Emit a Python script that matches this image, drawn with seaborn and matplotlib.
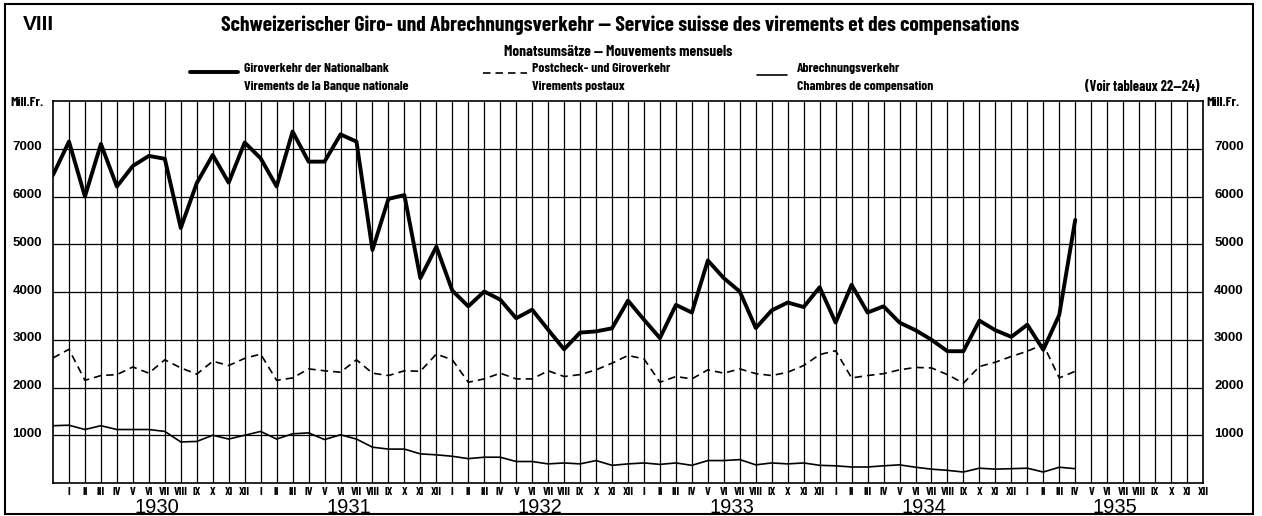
import numpy as np
import pandas as pd
import matplotlib.pyplot as plt
import matplotlib.transforms as mtransforms
from matplotlib.patches import Rectangle
from matplotlib.lines import Line2D
import seaborn as sns

# -------------------------------
# DATA (Mill. Fr., monthly, Dec 1929 .. Apr 1935)
# -------------------------------
giro = [6450, 7150, 6000, 7100, 6210, 6640, 6850, 6790, 5340, 6280, 6870, 6290,
        7130, 6800, 6210, 7360, 6730, 6730, 7300, 7150, 4880, 5950, 6030, 4290,
        4950, 4030, 3700, 4010, 3840, 3450, 3630, 3210, 2800, 3150, 3175, 3240,
        3820, 3420, 3035, 3730, 3570, 4660, 4290, 4010, 3245, 3615, 3780, 3685,
        4100, 3360, 4150, 3570, 3700, 3360, 3200, 3000, 2760, 2760, 3400, 3200,
        3060, 3315, 2790, 3520, 5510]
postcheck = [2620, 2800, 2150, 2250, 2270, 2430, 2300, 2580, 2410, 2280, 2550, 2460,
             2610, 2700, 2150, 2200, 2390, 2350, 2320, 2580, 2300, 2250, 2350, 2340,
             2700, 2580, 2110, 2180, 2300, 2180, 2180, 2350, 2230, 2270, 2370, 2510,
             2670, 2600, 2110, 2230, 2180, 2370, 2300, 2390, 2290, 2250, 2320, 2460,
             2690, 2770, 2200, 2250, 2290, 2370, 2420, 2410, 2270, 2090, 2440, 2530,
             2650, 2760, 2900, 2200, 2340]
clearing = [1200, 1210, 1120, 1200, 1120, 1120, 1120, 1080, 860, 870, 1000, 920,
            1000, 1080, 920, 1030, 1050, 910, 1010, 920, 750, 710, 710, 610,
            590, 560, 510, 540, 540, 450, 450, 400, 420, 400, 470, 370,
            400, 420, 390, 420, 370, 470, 470, 490, 380, 420, 400, 420,
            370, 360, 335, 335, 360, 380, 330, 290, 265, 230, 310, 290,
            300, 310, 230, 330, 300]

months = ["I", "II", "III", "IV", "V", "VI", "VII", "VIII", "IX", "X", "XI", "XII"]
years = ["1930", "1931", "1932", "1933", "1934", "1935"]
y_ticks = [1000, 2000, 3000, 4000, 5000, 6000, 7000]

df = pd.DataFrame({
    "t": np.arange(len(giro)),
    "giro": giro,
    "post": postcheck,
    "clear": clearing,
})

# -------------------------------
# STYLE
# -------------------------------
sns.set_style("white")
plt.rcParams["font.family"] = ["Barlow Condensed", "DejaVu Sans"]
plt.rcParams["font.weight"] = "bold"
plt.rcParams["text.color"] = "black"
wide = ["Liberation Sans", "DejaVu Sans"]

W, H = 1262, 516
fig = plt.figure(figsize=(W / 100, H / 100), dpi=100)
ax = fig.add_axes([53 / W, 1 - 483 / H, 1150 / W, 382 / H])

# -------------------------------
# LINES
# -------------------------------
sns.lineplot(data=df, x="t", y="giro", ax=ax, color="black", lw=2.8)
sns.lineplot(data=df, x="t", y="post", ax=ax, color="black", lw=1.2,
             linestyle=(0, (4.5, 3)))
sns.lineplot(data=df, x="t", y="clear", ax=ax, color="black", lw=1.2)

ax.set_xlim(0, 12 * len(years))
ax.set_ylim(0, 8000)
ax.set_xlabel("")
ax.set_ylabel("")

# grid
ax.set_xticks(np.arange(1, 12 * len(years) + 1))
ax.set_xticklabels(months * len(years), fontsize=8.5, color="black")
ax.set_yticks(y_ticks)
ax.set_yticklabels([str(v) for v in y_ticks], fontsize=9.5, color="black",
                   family=wide, fontweight="bold")
ax.grid(True, color="black", lw=0.9)
ax.tick_params(axis="x", length=0, pad=3)
ax.tick_params(axis="y", length=0, pad=8, labelleft=True, labelright=True)
up = mtransforms.ScaledTranslation(0, 3 / 100, fig.dpi_scale_trans)
for lab in ax.get_yticklabels():
    lab.set_transform(lab.get_transform() + up)
for s in ax.spines.values():
    s.set_color("black")
    s.set_linewidth(1.2)

# years
for i, yr in enumerate(years):
    ax.text(12 * i + 6.5, -0.063, yr, transform=ax.get_xaxis_transform(),
            ha="center", va="center", fontsize=14.5, fontweight="normal",
            family=wide)

# -------------------------------
# TEXT / LEGEND
# -------------------------------
def px(x, y):
    return x / W, 1 - y / H

fig.text(*px(23, 25), "VIII", fontsize=15, fontweight="bold", va="center",
         family=wide)
fig.text(*px(620, 25),
         "Schweizerischer Giro- und Abrechnungsverkehr \u2014 Service suisse des virements et des compensations",
         fontsize=15.5, fontweight="bold", ha="center", va="center")
fig.text(*px(618, 52), "Monatsumsätze \u2014 Mouvements mensuels",
         fontsize=11, fontweight="bold", ha="center", va="center")

fig.text(*px(244, 69), "Giroverkehr der Nationalbank", fontsize=9.8, va="center")
fig.text(*px(244, 87), "Virements de la Banque nationale", fontsize=9.8, va="center")
fig.text(*px(532, 69), "Postcheck- und Giroverkehr", fontsize=9.8, va="center")
fig.text(*px(532, 87), "Virements postaux", fontsize=9.8, va="center")
fig.text(*px(797, 69), "Abrechnungsverkehr", fontsize=9.8, va="center")
fig.text(*px(797, 87), "Chambres de compensation", fontsize=9.8, va="center")
fig.text(*px(1085, 87), "(Voir tableaux 22\u201424)", fontsize=10.2, va="center")

fig.add_artist(Line2D([190 / W, 238 / W], [1 - 72 / H] * 2, color="black", lw=2.8))
fig.add_artist(Line2D([483 / W, 527 / W], [1 - 73 / H] * 2, color="black", lw=1.2,
                      linestyle=(0, (4.5, 3))))
fig.add_artist(Line2D([757 / W, 787 / W], [1 - 75 / H] * 2, color="black", lw=1.2))

fig.text(*px(10, 103), "Mill.Fr.", fontsize=10, va="center")
fig.text(*px(1206, 103), "Mill.Fr.", fontsize=10, va="center")

# outer frame
fig.add_artist(Rectangle((5 / W, 2 / H), 1248 / W, 510 / H, transform=fig.transFigure,
                         fill=False, edgecolor="black", lw=1.5))

fig.savefig("out.png", dpi=100, facecolor="white")
